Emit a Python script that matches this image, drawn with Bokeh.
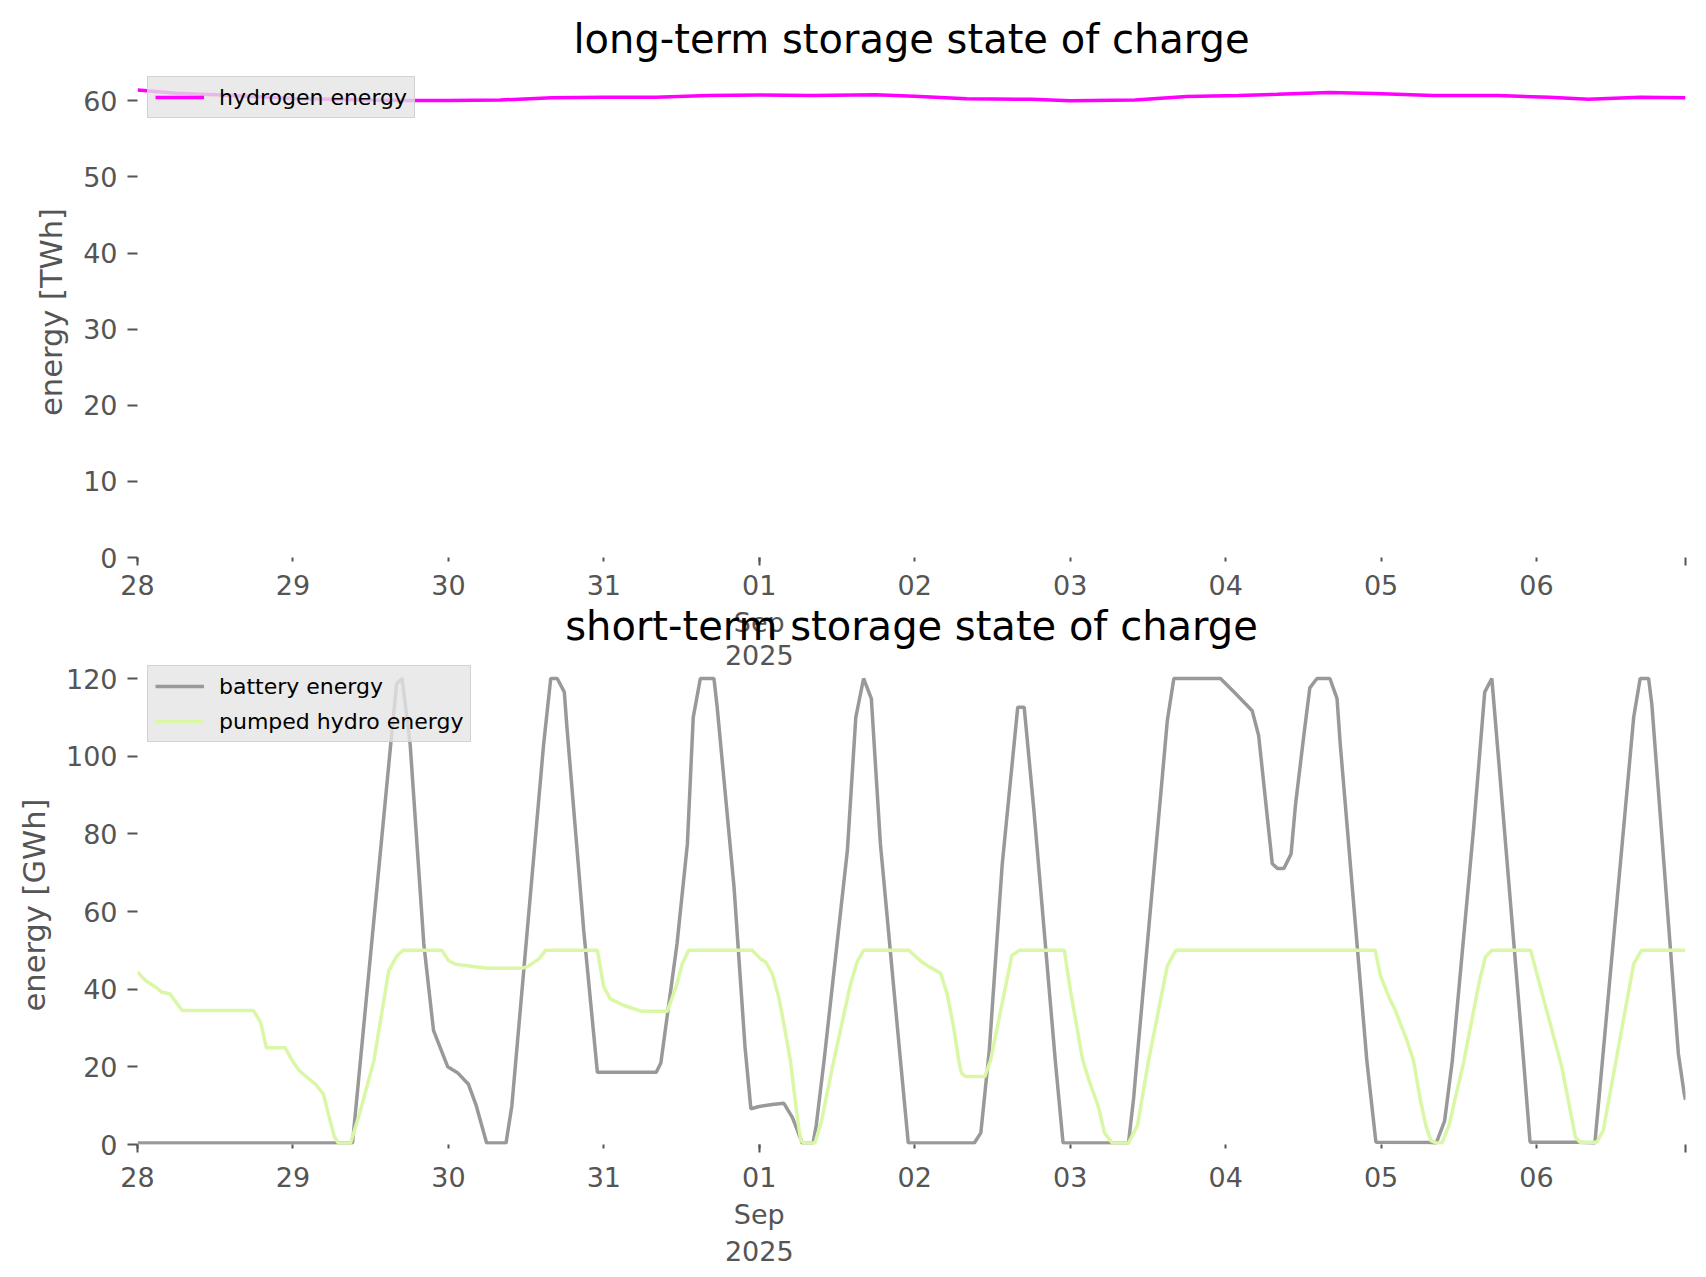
import pandas as pd
from bokeh.plotting import figure
from bokeh.models import (Range1d, FixedTicker, Legend, LegendItem, Label,
                          ColumnDataSource)
from bokeh.layouts import column
from bokeh.embed import file_html
from bokeh.resources import INLINE

# ---------------- data ----------------
START = "2025-08-28 00:00"
END_HOURS = 239
DAY_LABELS = ["28", "29", "30", "31", "01", "02", "03", "04", "05", "06"]
MONTH_LABEL = "Sep"
YEAR_LABEL = "2025"

TITLE_TOP = "long-term storage state of charge"
TITLE_BOTTOM = "short-term storage state of charge"
YLABEL_TOP = "energy [TWh]"
YLABEL_BOTTOM = "energy [GWh]"

Y_TICKS_TOP = [0, 10, 20, 30, 40, 50, 60]
Y_TICKS_BOTTOM = [0, 20, 40, 60, 80, 100, 120]

# hydrogen energy [TWh] (hours since start)
h2_hours = [0, 6, 12, 18, 24, 30, 36, 42, 48, 56, 64, 72, 80, 88, 96, 104,
            114, 120, 128, 138, 144, 154, 162, 170, 176, 184, 191, 200, 210,
            218, 224, 232, 239]
h2_twh = [61.4, 61.0, 60.8, 60.55, 60.3, 60.2, 60.1, 60.05, 60.05, 60.1,
          60.4, 60.45, 60.45, 60.7, 60.75, 60.7, 60.8, 60.6, 60.25, 60.2,
          60.0, 60.1, 60.55, 60.7, 60.85, 61.1, 60.95, 60.7, 60.7, 60.45,
          60.2, 60.45, 60.4]

# battery energy [GWh]
bat_hours = [0, 33.2, 39.0, 40.0, 40.85, 42.1, 44.2, 45.7, 47.9, 49.4, 51.1,
             52.3, 53.3, 53.9, 56.9, 57.8, 62.7, 63.8, 64.8, 65.9, 66.3,
             68.9, 71.0, 80.1, 80.8, 83.3, 84.9, 85.8, 86.9, 89.0, 89.5,
             92.1, 93.8, 94.7, 96.0, 98.0, 99.8, 101.1, 101.8, 102.6, 104.3,
             104.8, 106.0, 109.6, 110.9, 112.1, 113.3, 114.7, 117.8, 119.0,
             129.2, 130.2, 131.5, 133.5, 135.9, 136.9, 138.4, 141.7, 142.9,
             153.0, 153.8, 154.3, 159.0, 160.0, 167.2, 169.3, 172.1, 173.1,
             175.2, 176.0, 177.0, 178.1, 178.8, 180.1, 181.0, 182.1, 184.1,
             185.2, 185.7, 189.8, 191.2, 199.5, 200.5, 201.8, 203.0, 206.3,
             208.0, 209.1, 210.2, 214.0, 215.0, 222.2, 225.0, 225.8, 231.0,
             232.0, 233.3, 233.8, 237.9, 238.8, 239.0]
bat_gwh = [0.4, 0.4, 101.4, 118.6, 120, 103, 51.7, 29.4, 20, 18.5, 15.5, 10,
           4, 0.4, 0.4, 10, 103, 120, 120, 116.5, 107.5, 55, 18.6, 18.6, 21,
           51.7, 77.4, 110, 120, 120, 112.6, 66.3, 25, 9.2, 9.8, 10.3, 10.6,
           7, 4, 0.4, 0.4, 5, 21.6, 75.7, 110, 120, 114.8, 77.4, 21.6, 0.4,
           0.4, 3, 24, 72, 112.6, 112.6, 86, 21.6, 0.4, 0.4, 12, 21.6, 109.2,
           120, 120, 116.5, 111.7, 105.3, 72.3, 71.1, 71.1, 74.8, 87.7, 105.7,
           117.6, 120, 120, 114.8, 103, 21.6, 0.6, 0.5, 0.3, 6, 21.6, 81.7,
           116.5, 120, 98, 21.6, 0.6, 0.6, 0.3, 14.7, 110, 120, 120, 113.4,
           23.4, 13.1, 11.5]

# pumped hydro energy [GWh]
phs_hours = [0, 1.2, 2.8, 3.8, 5.0, 6.9, 17.9, 19.0, 19.9, 22.8, 23.9, 25.0,
             26.4, 27.5, 28.7, 29.6, 30.4, 31.0, 32.9, 34.3, 36.5, 38.8,
             40.1, 41.0, 47.0, 48.0, 49.1, 54.0, 59.4, 60.2, 62.0, 63.0,
             71.0, 72.0, 73.0, 75.1, 77.9, 81.8, 83.3, 84.1, 85.1, 94.9,
             96.2, 97.0, 98.0, 99.0, 99.8, 100.8, 101.8, 102.4, 102.9, 104.6,
             105.6, 107.5, 110.1, 111.1, 112.1, 119.1, 121.1, 122.2, 124.0,
             125.0, 126.0, 126.8, 127.2, 127.8, 130.8, 131.7, 135.0, 136.2,
             143.1, 144.0, 145.9, 146.9, 148.3, 149.3, 150.5, 153.0, 154.4,
             156.1, 159.0, 160.3, 191.1, 191.9, 193.2, 194.2, 196.0, 197.0,
             198.0, 198.9, 199.7, 200.5, 201.4, 202.5, 204.8, 207.1, 208.1,
             209.1, 215.1, 216.6, 219.9, 222.0, 222.7, 225.3, 226.3, 231.0,
             232.2, 239.0]
phs_gwh = [44.4, 42.3, 40.5, 39.2, 38.8, 34.5, 34.5, 31.5, 24.9, 24.9, 21.6,
           19, 17, 15.5, 13, 7, 2, 0.4, 0.4, 8, 21.6, 44.8, 48.7, 50, 50,
           47.4, 46.4, 45.4, 45.4, 45.8, 47.8, 50, 50, 40.5, 37.5, 35.8,
           34.3, 34.3, 41.4, 46.5, 50, 50, 47.8, 47, 44, 38, 31, 21.6, 8, 1,
           0.4, 0.4, 6, 21.6, 41.4, 47, 50, 50, 47, 45.8, 44.1, 38.8, 30.2,
           21.6, 18.5, 17.5, 17.5, 21.6, 48.7, 50, 50, 40, 22, 16.5, 10, 3,
           0.4, 0.4, 5, 21.6, 46, 50, 50, 43.5, 38, 34.5, 26.8, 21.6, 12, 5,
           1, 0.4, 0.4, 5, 21.6, 41.4, 48.3, 50, 50, 40.5, 20, 1.9, 0.6, 0.6,
           3.6, 46.5, 50, 50]

# ---------------- styles ----------------
FONT = "DejaVu Sans"
TICK_COLOR = "#555555"
H2_COLOR = "#ff00ff"
BAT_COLOR = "#999999"
PHS_COLOR = "#daf7a6"
LINE_W = 3.5

W = 1700
BORDER_L = 137
BORDER_R = 15

Y1_TOP = 64.5
H_STRIP0 = 66      # band holding the upper title
H_FIG1 = 535
FIG1_FRAME = 491
H_STRIP1 = 64      # band holding month/year of the upper axis + lower title
H_FIG2 = 611
FIG2_FRAME = H_FIG2 - 132
Y2_TOP = 120 * FIG2_FRAME / 466.0

t0 = pd.Timestamp(START)
epoch = pd.Timestamp("1970-01-01")


def to_ms(ts):
    return float((ts - epoch) / pd.Timedelta(milliseconds=1))


def times(hours):
    return [t0 + pd.Timedelta(hours=h) for h in hours]


x_start = to_ms(t0)
x_end = to_ms(t0 + pd.Timedelta(hours=END_HOURS))
day_ticks = [to_ms(t0 + pd.Timedelta(days=i)) for i in range(len(DAY_LABELS))]
month_tick = day_ticks[DAY_LABELS.index("01")]
long_ticks = [x_start, month_tick, x_end]


def style(p, y_ticks, y_label, overrides):
    p.outline_line_color = None
    p.xgrid.grid_line_color = None
    p.ygrid.grid_line_color = None
    xa = p.xaxis[0]
    ya = p.yaxis[0]
    for ax in (xa, ya):
        ax.axis_line_color = None
        ax.major_tick_line_color = TICK_COLOR
        ax.major_tick_line_width = 2
        ax.minor_tick_line_color = TICK_COLOR
        ax.minor_tick_line_width = 2
        ax.major_tick_in = 0
        ax.minor_tick_in = 0
        ax.major_label_text_font = FONT
        ax.major_label_text_font_size = "27px"
        ax.major_label_text_color = TICK_COLOR
    xa.ticker = FixedTicker(ticks=day_ticks, minor_ticks=long_ticks)
    xa.major_tick_out = 4
    xa.minor_tick_out = 8
    xa.major_label_standoff = 9
    xa.major_label_overrides = overrides
    ya.ticker = FixedTicker(ticks=y_ticks, minor_ticks=[])
    ya.major_tick_out = 10
    ya.minor_tick_line_color = None
    ya.major_label_standoff = 10
    ya.axis_label = y_label
    ya.axis_label_text_font = FONT
    ya.axis_label_text_font_size = "30.5px"
    ya.axis_label_text_font_style = "normal"
    ya.axis_label_text_color = TICK_COLOR
    ya.axis_label_standoff = 11


def add_legend(p, items, loc):
    leg = Legend(items=items, location=loc, margin=0, padding=7,
                 spacing=9, glyph_width=49, glyph_height=26, label_height=26,
                 label_standoff=15, label_text_font=FONT,
                 label_text_font_size="22px", label_text_color="black",
                 background_fill_color="#e5e5e5", background_fill_alpha=0.8,
                 border_line_color="#cccccc", border_line_alpha=0.8,
                 border_line_width=1.5)
    p.add_layout(leg)


def band(height, labels):
    s = figure(width=W, height=height, x_range=Range1d(x_start, x_end),
               y_range=Range1d(0, height), output_backend="svg",
               toolbar_location=None, title=None, x_axis_location=None,
               y_axis_location=None, min_border_left=BORDER_L,
               min_border_right=BORDER_R, min_border_top=0,
               min_border_bottom=0)
    s.outline_line_color = None
    s.grid.visible = False
    for lab in labels:
        s.add_layout(lab)
    return s


def text_label(text, y, size, color, x=None):
    return Label(x=(x_start + x_end) / 2 if x is None else x, y=y, text=text,
                 text_font=FONT, text_font_size=size, text_color=color,
                 text_align="center", text_baseline="middle")


# ---------------- upper title band ----------------
strip0 = band(H_STRIP0, [text_label(TITLE_TOP, 28, "40px", "black")])

# ---------------- top figure ----------------
p1 = figure(width=W, height=H_FIG1, x_axis_type="datetime",
            x_range=Range1d(x_start, x_end), y_range=Range1d(0, Y1_TOP),
            output_backend="svg", toolbar_location=None, title=None,
            min_border_left=BORDER_L, min_border_right=BORDER_R,
            min_border_top=0, min_border_bottom=H_FIG1 - FIG1_FRAME)
style(p1, Y_TICKS_TOP, YLABEL_TOP, dict(zip(day_ticks, DAY_LABELS)))
src_h2 = ColumnDataSource(dict(x=times(h2_hours), y=h2_twh))
r_h2 = p1.line("x", "y", source=src_h2, line_color=H2_COLOR, line_width=LINE_W)
add_legend(p1, [LegendItem(label="hydrogen energy", renderers=[r_h2])],
           (10, 439))

# ---------------- middle band (month/year of upper axis, lower title) ------
strip1 = band(H_STRIP1, [
    text_label(MONTH_LABEL, 43, "27px", TICK_COLOR, x=month_tick),
    text_label(YEAR_LABEL, 10.5, "27px", TICK_COLOR, x=month_tick),
    text_label(TITLE_BOTTOM, 39.3, "40px", "black"),
])

# ---------------- bottom figure ----------------
p2 = figure(width=W, height=H_FIG2, x_axis_type="datetime",
            x_range=Range1d(x_start, x_end), y_range=Range1d(0, Y2_TOP),
            output_backend="svg", toolbar_location=None, title=None,
            min_border_left=BORDER_L, min_border_right=BORDER_R,
            min_border_top=0, min_border_bottom=H_FIG2 - FIG2_FRAME)
bottom_labels = [lab if lab != "01" else f"01\n{MONTH_LABEL}\n{YEAR_LABEL}"
                 for lab in DAY_LABELS]
style(p2, Y_TICKS_BOTTOM, YLABEL_BOTTOM, dict(zip(day_ticks, bottom_labels)))
src_bat = ColumnDataSource(dict(x=times(bat_hours), y=bat_gwh))
src_phs = ColumnDataSource(dict(x=times(phs_hours), y=phs_gwh))
r_bat = p2.line("x", "y", source=src_bat, line_color=BAT_COLOR, line_width=LINE_W)
r_phs = p2.line("x", "y", source=src_phs, line_color=PHS_COLOR, line_width=LINE_W)
add_legend(p2, [LegendItem(label="battery energy", renderers=[r_bat]),
                LegendItem(label="pumped hydro energy", renderers=[r_phs])],
           (10, 402))

layout = column(strip0, p1, strip1, p2, spacing=0)
open("out.html", "w").write(file_html(layout, INLINE))
